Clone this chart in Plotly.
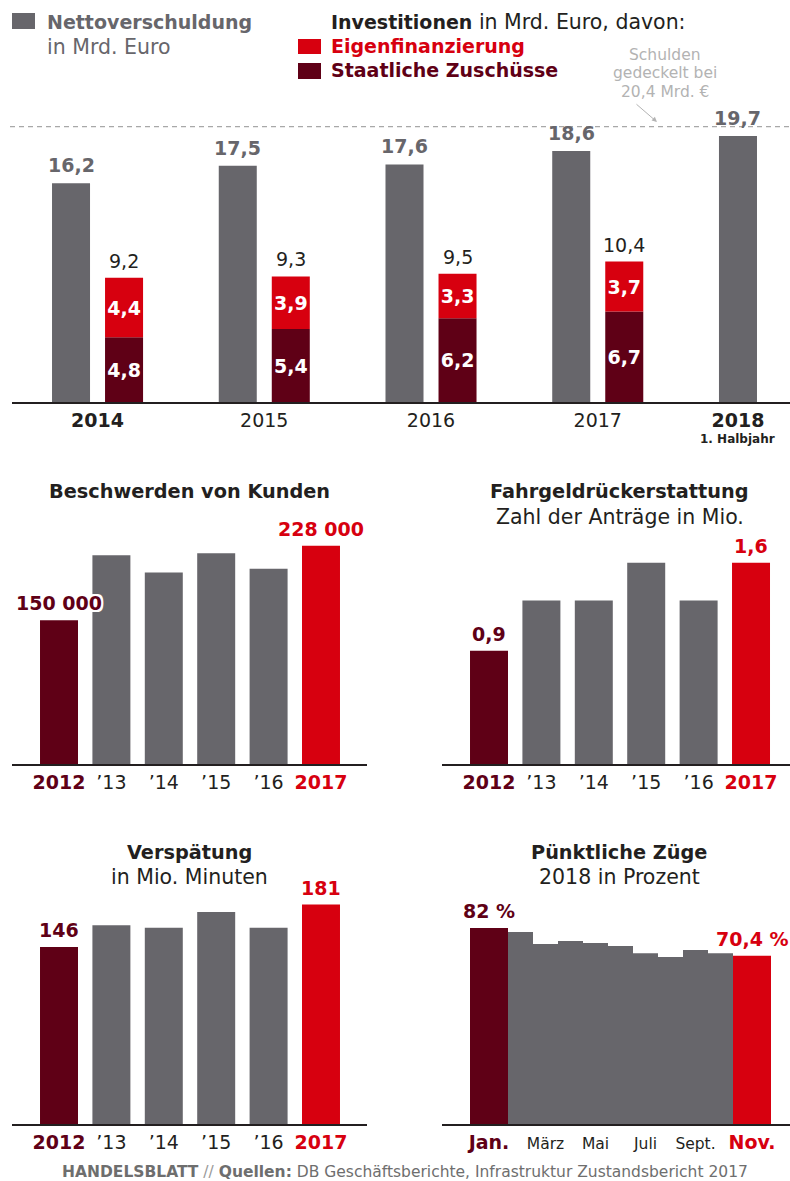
import plotly.graph_objects as go

W, H = 790, 1181

# ---------------- data ----------------
years = [2014, 2015, 2016, 2017, 2018]
netto = [16.2, 17.5, 17.6, 18.6, 19.7]
inv_years = [2014, 2015, 2016, 2017]
staat = [4.8, 5.4, 6.2, 6.7]
eigen = [4.4, 3.9, 3.3, 3.7]
invest_total = [9.2, 9.3, 9.5, 10.4]
debt_cap = 20.4
year_ticks = ["<b>2014</b>", "2015", "2016", "2017", "<b>2018</b>"]

cat_years = ["2012", "2013", "2014", "2015", "2016", "2017"]
cat_labels = ["2012", "’13", "’14", "’15", "’16", "2017"]
beschwerden = [150000, 218000, 200000, 220000, 204000, 228000]
fahrgeld = [0.9, 1.3, 1.3, 1.6, 1.3, 1.6]
verspaetung = [146, 164, 162, 175, 162, 181]

months = ["Jan.", "Feb.", "März", "April", "Mai", "Juni", "Juli", "Aug.", "Sept.", "Okt.", "Nov."]
puenktlich = [82.0, 80.3, 75.3, 76.6, 75.7, 74.5, 71.5, 69.9, 72.8, 71.5, 70.4]

# ---------------- style ----------------
GRAY = "#67666b"
RED = "#d7000f"
DARK = "#5f0016"
INK = "#231f20"
LIGHT = "#b3b3b3"
FONT = "DejaVu Sans"

def fmt1(v):
    return f"{v:.1f}".replace(".", ",")

def fmt_th(v):
    return f"{v:,.0f}".replace(",", " ")

def fx(p):
    return p / W

def fy(p):
    return 1 - p / H

six_colors = [DARK, GRAY, GRAY, GRAY, GRAY, RED]

fig = go.Figure()

# ---------------- top chart ----------------
BW = 0.228
INV_SHIFT = 0.318
fig.add_trace(go.Bar(x=years, y=netto, width=BW, offset=-BW / 2,
                     marker=dict(color=GRAY, line=dict(width=0)),
                     xaxis="x", yaxis="y", hoverinfo="skip"))
for vals, base, col in ((staat, None, DARK), (eigen, staat, RED)):
    fig.add_trace(go.Bar(x=inv_years, y=vals, base=base, width=BW, offset=INV_SHIFT - BW / 2,
                         marker=dict(color=col, line=dict(width=0)),
                         text=[fmt1(v) for v in vals], textposition="inside", textangle=0,
                         insidetextanchor="middle", constraintext="none",
                         textfont=dict(family=FONT, size=19, color="white", weight="bold"),
                         xaxis="x", yaxis="y", hoverinfo="skip"))

annotations = []
for x, v in zip(years, netto):
    annotations.append(dict(x=x, y=v, xref="x", yref="y", yshift=18, showarrow=False,
                            text=f"<b>{fmt1(v)}</b>", xanchor="center", yanchor="middle",
                            font=dict(family=FONT, size=19, color=GRAY)))
for x, v in zip(inv_years, invest_total):
    annotations.append(dict(x=x + INV_SHIFT, y=v, xref="x", yref="y", yshift=17, showarrow=False,
                            text=fmt1(v), xanchor="center", yanchor="middle",
                            font=dict(family=FONT, size=19, color=INK)))
annotations.append(dict(x=years[-1], y=0, xref="x", yref="y", yshift=-37, showarrow=False,
                        text="<b>1. Halbjahr</b>", xanchor="center", yanchor="middle",
                        font=dict(family=FONT, size=12, color=INK)))

shapes = [dict(type="line", xref="paper", yref="y", x0=fx(10), x1=1, y0=debt_cap, y1=debt_cap,
               line=dict(color="#a8a8a8", width=1.3, dash="5px,4px"))]

# legend
shapes += [
    dict(type="rect", xref="paper", yref="paper", x0=fx(12), x1=fx(35), y0=fy(29), y1=fy(13),
         fillcolor=GRAY, line=dict(width=0)),
    dict(type="rect", xref="paper", yref="paper", x0=fx(298), x1=fx(321), y0=fy(54), y1=fy(39),
         fillcolor=RED, line=dict(width=0)),
    dict(type="rect", xref="paper", yref="paper", x0=fx(298), x1=fx(321), y0=fy(79), y1=fy(63),
         fillcolor=DARK, line=dict(width=0)),
]
legend_txt = [
    (45, 22, "<b>Nettoverschuldung</b>", GRAY, 19),
    (45, 47, "in Mrd. Euro", GRAY, 20.5),
    (329, 22, "<b>Investitionen</b><span style='font-size:20.5px'> in Mrd. Euro, davon:</span>", INK, 19),
    (329, 46, "<b>Eigenfinanzierung</b>", RED, 19),
    (329, 70, "<b>Staatliche Zuschüsse</b>", DARK, 19),
]
for px, py, t, c, s in legend_txt:
    annotations.append(dict(x=fx(px), y=fy(py), xref="paper", yref="paper", xanchor="left",
                            yanchor="middle", showarrow=False, text=t,
                            font=dict(family=FONT, size=s, color=c)))

for py, t in ((55, "Schulden"), (73.5, "gedeckelt bei"), (92, "20,4 Mrd. €")):
    annotations.append(dict(x=fx(665), y=fy(py), xref="paper", yref="paper", showarrow=False,
                            xanchor="center", yanchor="middle", text=t,
                            font=dict(family=FONT, size=15.5, color=LIGHT)))
annotations.append(dict(x=fx(657), y=fy(122), xref="paper", yref="paper", text="",
                        showarrow=True, ax=-22, ay=-19, arrowhead=2, arrowsize=1,
                        arrowwidth=1, arrowcolor=LIGHT))

# ---------------- small bar charts ----------------
def small_bars(values, xa, ya):
    fig.add_trace(go.Bar(x=cat_years, y=values, width=0.725,
                         marker=dict(color=six_colors, line=dict(width=0)),
                         xaxis=xa, yaxis=ya, hoverinfo="skip"))

small_bars(beschwerden, "x2", "y2")
small_bars(fahrgeld, "x3", "y3")
small_bars(verspaetung, "x4", "y4")

HALO = ("2px 2px 0 #fff, -2px -2px 0 #fff, 2px -2px 0 #fff, -2px 2px 0 #fff, "
        "0 2px 0 #fff, 0 -2px 0 #fff, 2px 0 0 #fff, -2px 0 0 #fff")

def end_labels(values, fmt, xr, yr, first_shadow=False):
    for i, col in ((0, DARK), (len(values) - 1, RED)):
        f = dict(family=FONT, size=19, color=col)
        if first_shadow and i == 0:
            f["shadow"] = HALO
        annotations.append(dict(x=i, y=values[i], xref=xr, yref=yr, yshift=17,
                                showarrow=False, xanchor="center", yanchor="middle",
                                text=f"<b>{fmt(values[i])}</b>", font=f))

end_labels(beschwerden, fmt_th, "x2", "y2", first_shadow=True)
end_labels(fahrgeld, fmt1, "x3", "y3")
end_labels(verspaetung, lambda v: f"{v:.0f}", "x4", "y4")

# punctuality (monthly)
m_idx = list(range(1, len(months) + 1))
m_width = [1.52] + [1.0] * (len(months) - 2) + [1.52]
m_offset = [-1.02] + [-0.5] * (len(months) - 1)
m_colors = [DARK] + [GRAY] * (len(months) - 2) + [RED]
fig.add_trace(go.Bar(x=m_idx, y=puenktlich, width=m_width, offset=m_offset,
                     marker=dict(color=m_colors, line=dict(width=0)),
                     xaxis="x5", yaxis="y5", hoverinfo="skip"))
m_centers = [x + o + w / 2 for x, o, w in zip(m_idx, m_offset, m_width)]
for i, col in ((0, DARK), (len(months) - 1, RED)):
    annotations.append(dict(x=m_centers[i], y=puenktlich[i], xref="x5", yref="y5", yshift=17,
                            showarrow=False, xanchor="center", yanchor="middle",
                            text=f"<b>{fmt1(puenktlich[i]).replace(',0', '')} %</b>",
                            font=dict(family=FONT, size=19, color=col)))
m_tick_i = [0, 2, 4, 6, 8, 10]
m_ticktext = []
for i in m_tick_i:
    if i == 0:
        m_ticktext.append(f"<span style='color:{DARK};font-size:19px'><b>{months[i]}</b></span>")
    elif i == len(months) - 1:
        m_ticktext.append(f"<span style='color:{RED};font-size:19px'><b>{months[i]}</b></span>")
    else:
        m_ticktext.append(f"<span style='font-size:15.5px'>{months[i]}</span>")

# titles
titles = [
    (189, 491, "<b>Beschwerden von Kunden</b>", 19.3),
    (619, 492, "<b>Fahrgeldrückerstattung</b>", 19.3),
    (620, 517, "Zahl der Anträge in Mio.", 20.5),
    (189, 852, "<b>Verspätung</b>", 19.3),
    (189, 877, "in Mio. Minuten", 20.5),
    (619, 852, "<b>Pünktliche Züge</b>", 19.3),
    (619, 877, "2018 in Prozent", 20.5),
]
for px, py, t, s in titles:
    annotations.append(dict(x=fx(px), y=fy(py), xref="paper", yref="paper", showarrow=False,
                            xanchor="center", yanchor="middle", text=t,
                            font=dict(family=FONT, size=s, color=INK)))

annotations.append(dict(x=fx(405), y=fy(1172), xref="paper", yref="paper", showarrow=False,
                        xanchor="center", yanchor="middle",
                        text="<b>HANDELSBLATT</b> <span style='color:#9a9a9a'>//</span> <b>Quellen:</b> DB Geschäftsberichte, Infrastruktur Zustandsbericht 2017",
                        font=dict(family=FONT, size=15.5, color="#6e6e6e")))

def six_ticks():
    out = []
    for i, t in enumerate(cat_labels):
        if i == 0:
            out.append(f"<span style='color:{DARK}'><b>{t}</b></span>")
        elif i == len(cat_labels) - 1:
            out.append(f"<span style='color:{RED}'><b>{t}</b></span>")
        else:
            out.append(t)
    return out

axis_common = dict(showgrid=False, zeroline=False, showline=True, linecolor=INK, linewidth=2,
                   ticks="", fixedrange=True, tickfont=dict(family=FONT, size=19, color=INK))
yaxis_common = dict(visible=False, fixedrange=True, showgrid=False, zeroline=False)

layout = dict(
    width=W, height=H, margin=dict(l=0, r=0, t=0, b=0),
    paper_bgcolor="white", plot_bgcolor="white", barmode="overlay", showlegend=False,
    font=dict(family=FONT, color=INK),
    xaxis=dict(axis_common, domain=[fx(12), 1], range=[2013.646, 2018.312],
               tickvals=[y + INV_SHIFT / 2 for y in inv_years] + [years[-1]],
               ticktext=year_ticks, anchor="y"),
    yaxis=dict(yaxis_common, domain=[fy(402), fy(105)], range=[0, 22], anchor="x"),
    xaxis2=dict(axis_common, type="category", domain=[fx(12), fx(367)], range=[-0.897, 5.878],
                tickvals=cat_years, ticktext=six_ticks(), anchor="y2"),
    yaxis2=dict(yaxis_common, domain=[fy(764), fy(520)], range=[0, 254800], anchor="x2"),
    xaxis3=dict(axis_common, type="category", domain=[fx(442), 1], range=[-0.897, 5.744],
                tickvals=cat_years, ticktext=six_ticks(), anchor="y3"),
    yaxis3=dict(yaxis_common, domain=[fy(764), fy(520)], range=[0, 1.941], anchor="x3"),
    xaxis4=dict(axis_common, type="category", domain=[fx(12), fx(367)], range=[-0.897, 5.878],
                tickvals=cat_years, ticktext=six_ticks(), anchor="y4"),
    yaxis4=dict(yaxis_common, domain=[fy(1124), fy(880)], range=[0, 201.3], anchor="x4"),
    xaxis5=dict(axis_common, domain=[fx(442), 1], range=[-1.14, 12.78],
                tickvals=[m_centers[i] for i in m_tick_i], ticktext=m_ticktext, anchor="y5"),
    yaxis5=dict(yaxis_common, domain=[fy(1124), fy(880)], range=[0, 102.1], anchor="x5"),
    annotations=annotations, shapes=shapes,
)
fig.update_layout(**layout)

fig.write_html("out.html", config={"displayModeBar": False, "staticPlot": True},
               post_script="document.body.style.margin='0px';document.body.style.overflow='hidden';")
